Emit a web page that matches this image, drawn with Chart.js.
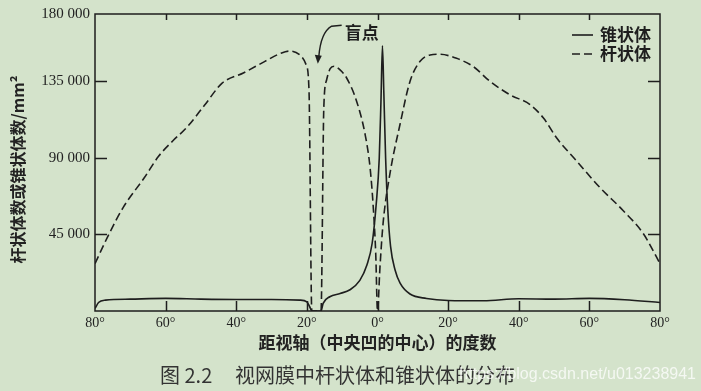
<!DOCTYPE html>
<html>
<head>
<meta charset="utf-8">
<script src="https://cdn.jsdelivr.net/npm/chart.js@4.4.1/dist/chart.umd.min.js"></script>
<style>
  html, body { margin: 0; padding: 0; background: #d4e3cb; }
  #wrap { width: 701px; height: 391px; position: relative; }
</style>
</head>
<body>
<div id="wrap"><canvas id="chart"></canvas></div>
<script>
// rods (dashed) - degrees from the visual axis / count per mm2
var rodDeg = [-80, -76, -72, -66, -62, -58, -54, -49, -44, -38,
  -32, -27.5, -25, -22, -20.2, -19.4, -18.6, -16.0, -15.2, -14.4,
  -13.4, -12.3, -10.6, -8.7, -5.9, -3.5, -2.1, -1.2, -0.5, 0,
  0.7, 1.6, 3.5, 6.4, 9.2, 12.0, 14.9, 17.7, 22.4, 27.1,
  31.9, 37.5, 43.2, 47.0, 50.7, 56.4, 63.0, 69.6, 75.3, 80];
var rodVal = [27900, 45400, 61000, 78500, 91000, 100000, 108000, 121000, 134000, 140000,
  146700, 151500, 152900, 150600, 144800, 130000, 0, 0, 120000, 136000,
  142500, 144000, 141800, 136900, 123300, 103800, 84300, 61000, 33700, 0,
  25900, 52000, 80500, 110000, 135000, 146700, 150600, 151000, 148600, 143800,
  135000, 127200, 121400, 113500, 101900, 88200, 72600, 59000, 45400, 27900];

// cones (solid)
var coneDeg = [-80, -79, -77, -70, -60, -50, -40, -30, -22, -20,
  -19.2, -18.6, -16.0, -15.4, -13.5, -10.6, -7.8, -5.0, -3.0, -1.5,
  -0.4, 0.5, 1.0, 1.4, 1.8, 2.3, 2.9, 3.7, 5.0, 6.4,
  9.2, 13.9, 20, 30, 40, 50, 60, 70, 80];
var coneVal = [1500, 5000, 6400, 7000, 7400, 7000, 6800, 6800, 6400, 5400,
  2500, 0, 0, 4500, 8400, 10300, 12500, 18000, 27000, 40000,
  62000, 90000, 125000, 156000, 128000, 90000, 60000, 38000, 24000, 16400,
  10000, 7400, 6200, 6000, 7200, 7000, 7400, 6600, 5000];

var seriesNames = ['锥状体', '杆状体'];
var xTicks = [-80, -60, -40, -20, 0, 20, 40, 60, 80];
var yTicks = [45000, 90000, 135000];
var yTop = 174700;          // top edge of the frame, printed as 180 000 in the source
var yTopLabel = '180 000';
var xTitle = '距视轴（中央凹的中心）的度数';
var yTitle = '杆状体数或锥状体数/mm²';
var figNo = '图 2.2';
var figTitle = '视网膜中杆状体和锥状体的分布';
var watermark = 'https://blog.csdn.net/u013238941';
var blindText = '盲点';
var blindLabel = { x: -9.3, y: 164000 };
var blindTip = { x: -16.9, y: 145500 };

var ink = '#1e1e1e';
var cjk = '"Noto Sans CJK SC", sans-serif';
var serif = '"Liberation Serif", "DejaVu Serif", serif';

function fmt(v) {
  return String(v).replace(/\B(?=(\d{3})+(?!\d))/g, ' ');
}

function pairs(xs, ys) {
  return xs.map(function (x, i) { return { x: x, y: ys[i] }; });
}

var decor = {
  id: 'decor',
  beforeDraw: function (chart) {
    var ctx = chart.ctx;
    ctx.save();
    ctx.fillStyle = '#d4e3cb';
    ctx.fillRect(0, 0, chart.width, chart.height);
    ctx.restore();
  },
  afterDraw: function (chart) {
    var ctx = chart.ctx;
    var a = chart.chartArea;
    var xs = chart.scales.x, ys = chart.scales.y;
    ctx.save();

    // frame + inward ticks
    ctx.strokeStyle = ink;
    ctx.lineWidth = 1.5;
    ctx.setLineDash([]);
    ctx.strokeRect(a.left, a.top, a.right - a.left, a.bottom - a.top);
    ctx.beginPath();
    xTicks.slice(1, -1).forEach(function (v) {
      var px = Math.round(xs.getPixelForValue(v)) + 0.5;
      ctx.moveTo(px, a.bottom); ctx.lineTo(px, a.bottom - 10);
      ctx.moveTo(px, a.top); ctx.lineTo(px, a.top + 6);
    });
    yTicks.forEach(function (v) {
      var py = Math.round(ys.getPixelForValue(v)) + 0.5;
      ctx.moveTo(a.left, py); ctx.lineTo(a.left + 12, py);
      ctx.moveTo(a.right, py); ctx.lineTo(a.right - 12, py);
    });
    ctx.stroke();

    // y axis title, sits a little below the frame centre in the source
    ctx.save();
    ctx.translate(18, (a.top + a.bottom) / 2 + 7);
    ctx.rotate(-Math.PI / 2);
    ctx.font = 'bold 16px ' + cjk;
    ctx.fillStyle = '#222';
    ctx.textAlign = 'center';
    ctx.textBaseline = 'middle';
    ctx.fillText(yTitle, 0, 0);
    ctx.restore();

    // legend, top right inside the frame
    ctx.font = 'bold 17px ' + cjk;
    ctx.textBaseline = 'middle';
    ctx.textAlign = 'left';
    chart.data.datasets.forEach(function (ds, i) {
      var ly = a.top + 21 + i * 19;
      ctx.strokeStyle = ds.borderColor;
      ctx.lineWidth = ds.borderWidth;
      ctx.setLineDash(ds.borderDash || []);
      ctx.beginPath();
      ctx.moveTo(a.right - 88, ly);
      ctx.lineTo(a.right - 67, ly);
      ctx.stroke();
      ctx.fillStyle = ink;
      ctx.fillText(ds.label, a.right - 60, ly);
    });
    ctx.setLineDash([]);

    // blind spot note with arrow
    var lx = xs.getPixelForValue(blindLabel.x), ly2 = ys.getPixelForValue(blindLabel.y);
    var tx = xs.getPixelForValue(blindTip.x), ty = ys.getPixelForValue(blindTip.y);
    ctx.fillStyle = ink;
    ctx.fillText(blindText, lx, ly2);
    ctx.strokeStyle = ink;
    ctx.lineWidth = 1.4;
    ctx.beginPath();
    ctx.moveTo(lx - 3, ly2 - 7);
    ctx.lineTo(lx - 13, ly2 - 6);
    ctx.quadraticCurveTo(tx + 3, ly2, tx + 1, ty - 7);
    ctx.stroke();
    ctx.beginPath();
    ctx.moveTo(tx, ty);
    ctx.lineTo(tx - 3, ty - 9);
    ctx.lineTo(tx + 4, ty - 8);
    ctx.closePath();
    ctx.fill();

    // figure caption + watermark
    ctx.fillStyle = '#333';
    ctx.font = '20px ' + cjk;
    ctx.fillText(figNo, 160, 375);
    ctx.fillText(figTitle, 235, 375);
    ctx.fillStyle = 'rgba(255,255,255,0.75)';
    ctx.font = '16px "Liberation Sans", Arial, sans-serif';
    ctx.textAlign = 'right';
    ctx.fillText(watermark, 696, 375);
    ctx.restore();
  }
};

var ctx = document.getElementById('chart').getContext('2d');
var chart = new Chart(ctx, {
  type: 'line',
  data: {
    datasets: [{
      label: seriesNames[0],
      data: pairs(coneDeg, coneVal),
      borderColor: ink,
      borderWidth: 1.6,
      pointRadius: 0,
      fill: false,
      cubicInterpolationMode: 'monotone'
    }, {
      label: seriesNames[1],
      data: pairs(rodDeg, rodVal),
      borderColor: ink,
      borderWidth: 1.6,
      borderDash: [8, 4],
      pointRadius: 0,
      fill: false,
      cubicInterpolationMode: 'monotone'
    }]
  },
  options: {
    responsive: true,
    maintainAspectRatio: false,
    animation: false,
    devicePixelRatio: 1,
    layout: { padding: { left: 0, right: 41, top: 12, bottom: 0 } },
    plugins: { legend: { display: false }, tooltip: { enabled: false } },
    scales: {
      x: {
        type: 'linear',
        min: -80,
        max: 80,
        grid: { display: false, drawTicks: false },
        border: { display: false },
        afterBuildTicks: function (s) { s.ticks = xTicks.map(function (v) { return { value: v }; }); },
        afterFit: function (s) { s.height = 80; },
        ticks: {
          padding: 4,
          color: '#222',
          font: { family: serif, size: 14 },
          maxRotation: 0,
          callback: function (v) { return Math.abs(v) + '°'; }
        },
        title: {
          display: true,
          text: xTitle,
          color: '#222',
          font: { family: cjk, size: 17, weight: 'bold' },
          padding: { top: 0, bottom: 38 }
        }
      },
      y: {
        min: 0,
        max: yTop,
        grid: { display: false, drawTicks: false },
        border: { display: false },
        afterBuildTicks: function (s) {
          s.ticks = yTicks.concat([yTop]).map(function (v) { return { value: v }; });
        },
        afterFit: function (s) { s.width = 95; },
        ticks: {
          padding: 5,
          color: '#222',
          font: { family: serif, size: 15 },
          callback: function (v) { return v === yTop ? yTopLabel : fmt(v); }
        },
        title: { display: false }
      }
    }
  },
  plugins: [decor]
});
</script>
</body>
</html>
